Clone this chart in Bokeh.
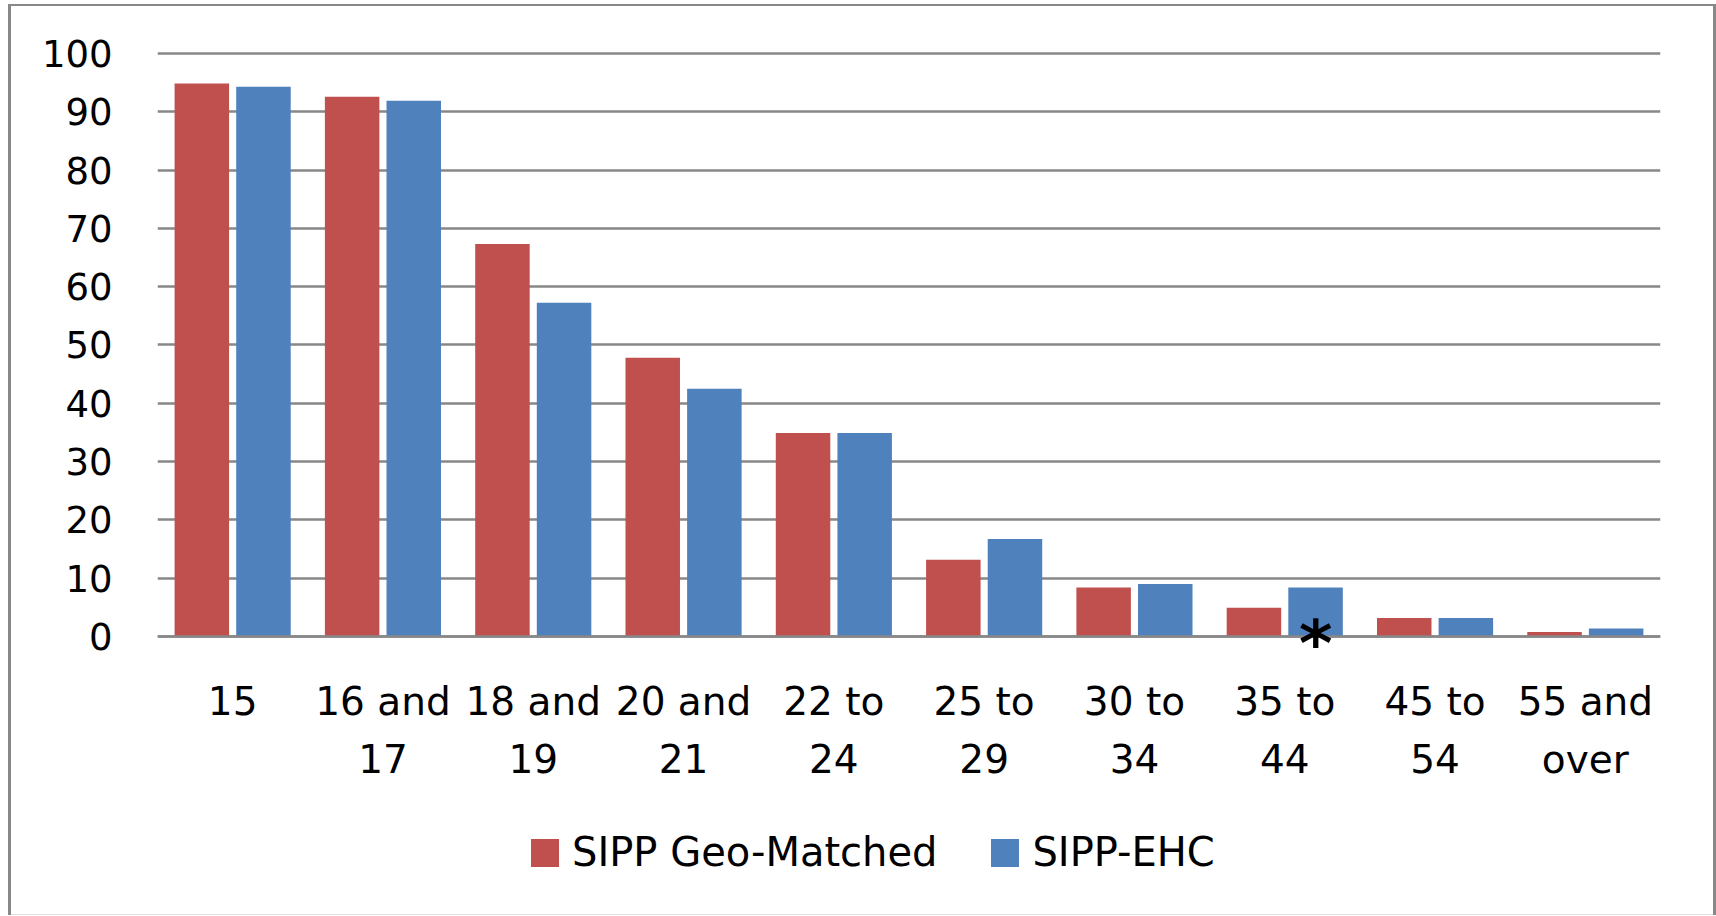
from bokeh.plotting import figure
from bokeh.models import (ColumnDataSource, FactorRange, Range1d, FixedTicker,
                          Legend, LegendItem, Label, CategoricalAxis)
from bokeh.transform import dodge
from bokeh.embed import file_html
from bokeh.resources import INLINE

# ---- data ----
categories = ["15", "16 and 17", "18 and 19", "20 and 21", "22 to 24",
              "25 to 29", "30 to 34", "35 to 44", "45 to 54", "55 and over"]
label_line1 = ["15", "16 and", "18 and", "20 and", "22 to",
               "25 to", "30 to", "35 to", "45 to", "55 and"]
label_line2 = [" ", "17", "19", "21", "24", "29", "34", "44", "54", "over"]
geo_matched = [94.85, 92.55, 67.3, 47.8, 34.9, 13.15, 8.4, 4.9, 3.15, 0.75]
sipp_ehc = [94.3, 91.9, 57.25, 42.5, 34.9, 16.7, 9.0, 8.4, 3.15, 1.35]
series_names = ["SIPP Geo-Matched", "SIPP-EHC"]
series_colors = ["#C0504D", "#4F81BD"]
y_ticks = [0, 10, 20, 30, 40, 50, 60, 70, 80, 90, 100]
note_category = "35 to 44"
note_text = "*"

FONT = "DejaVu Sans"
GRID = "#888888"

src = ColumnDataSource(dict(cat=categories, geo=geo_matched, ehc=sipp_ehc))

p = figure(x_range=FactorRange(factors=categories, range_padding=0, factor_padding=0),
           y_range=Range1d(-47.87, 100.5),
           width=1708, height=911,
           x_axis_location=None,
           output_backend="svg", toolbar_location=None,
           min_border_left=149, min_border_right=56,
           min_border_top=46, min_border_bottom=0)
p.margin = (4, 0, 1, 8)
p.extra_x_ranges = {
    "line1": FactorRange(factors=label_line1, range_padding=0, factor_padding=0),
    "line2": FactorRange(factors=label_line2, range_padding=0, factor_padding=0),
}

r1 = p.vbar(x=dodge("cat", -0.205, range=p.x_range), top="geo", bottom=0, width=0.3626,
            source=src, fill_color=series_colors[0], line_color=None)
r2 = p.vbar(x=dodge("cat", 0.205, range=p.x_range), top="ehc", bottom=0, width=0.3626,
            source=src, fill_color=series_colors[1], line_color=None)

p.outline_line_color = None
p.background_fill_alpha = 0
p.border_fill_alpha = 0

for g in p.xgrid:
    g.grid_line_color = None
p.yaxis.ticker = FixedTicker(ticks=y_ticks)
p.ygrid.ticker = FixedTicker(ticks=y_ticks)
p.ygrid.grid_line_color = GRID
p.ygrid.grid_line_width = 2.7

p.yaxis.axis_line_color = None
p.yaxis.major_tick_line_color = None
p.yaxis.minor_tick_line_color = None
p.yaxis.major_tick_out = 0
p.yaxis.major_tick_in = 0
p.yaxis.minor_tick_out = 0
p.yaxis.major_label_text_font = FONT
p.yaxis.major_label_text_font_size = "37px"
p.yaxis.major_label_text_color = "black"
p.yaxis.major_label_standoff = 45


def make_xaxis(range_name, standoff, line_color):
    ax = CategoricalAxis(x_range_name=range_name, fixed_location=0)
    ax.axis_line_color = line_color
    ax.axis_line_width = 2.7
    ax.major_tick_line_color = None
    ax.minor_tick_line_color = None
    ax.major_label_text_font = FONT
    ax.major_label_text_font_size = "39px"
    ax.major_label_text_color = "black"
    ax.major_label_standoff = standoff
    return ax


p.add_layout(make_xaxis("line2", 95, None), "below")
p.add_layout(make_xaxis("line1", 37, GRID), "below")

legend = Legend(items=[LegendItem(label=series_names[0], renderers=[r1]),
                       LegendItem(label=series_names[1], renderers=[r2])],
                orientation="horizontal", location=(370, 40),
                padding=0, margin=0, spacing=50,
                glyph_width=35, glyph_height=35, label_standoff=10,
                label_text_font=FONT, label_text_font_size="40px",
                label_text_color="black",
                border_line_color=None, background_fill_alpha=0)
p.add_layout(legend)

# synthetic coordinate of the factor centre in the FactorRange
note_x = categories.index(note_category) + 0.5
note = Label(x=note_x, y=0, x_offset=31, y_offset=-8, text=note_text,
             text_font=FONT, text_font_style="bold", text_font_size="64px",
             text_align="center", text_baseline="middle", text_color="black")
p.add_layout(note)

p.styles = {"box-shadow": ("inset 3px 0 0 #888888, inset -3px 0 0 #888888, "
                           "inset 0 2px 0 #888888, inset 0 -1px 0 #e0e0e0"),
            "background-color": "white"}

open("out.html", "w").write(file_html(p, INLINE))
